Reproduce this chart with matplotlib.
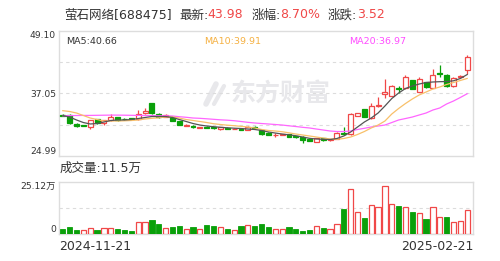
import matplotlib
matplotlib.use("Agg")
import matplotlib.pyplot as plt
import numpy as np

plt.rcParams['font.family'] = ['DejaVu Sans', 'Noto Sans CJK SC']

# daily candles 2024-11-21 .. 2025-02-21
opens = [32.85, 32.88, 31.10, 30.90, 30.63, 32.10, 31.28, 31.92, 32.43, 32.15,
         32.25, 32.11, 33.20, 35.13, 33.07, 32.49, 32.55, 31.73, 30.85, 30.83,
         30.38, 30.60, 30.50, 30.13, 30.35, 30.15, 30.23, 30.00, 30.60, 30.00,
         29.48, 28.95, 29.03, 29.17, 28.80, 28.70, 28.26, 27.74, 28.39, 28.07,
         28.26, 29.51, 29.22, 32.69, 33.94, 32.30, 34.60, 36.86, 36.63, 38.05,
         38.07, 39.55, 37.36, 39.17, 38.10, 40.90, 40.64, 38.40, 40.25, 41.54]
highs = [33.00, 33.00, 31.30, 31.00, 32.00, 32.20, 32.00, 33.00, 32.50, 32.30,
         32.35, 33.84, 34.17, 35.20, 33.20, 33.00, 32.70, 31.80, 31.20, 31.00,
         30.60, 30.75, 30.60, 30.60, 30.50, 30.35, 30.35, 30.83, 30.70, 30.10,
         29.60, 29.35, 29.30, 29.25, 28.90, 28.80, 28.35, 28.50, 28.45, 28.35,
         29.60, 30.48, 33.30, 33.30, 34.00, 35.13, 36.34, 39.75, 38.60, 38.46,
         40.58, 39.70, 40.13, 39.30, 41.77, 42.57, 40.80, 40.10, 40.60, 44.50]
lows = [32.60, 31.20, 30.60, 30.70, 30.13, 31.20, 30.96, 31.80, 31.80, 31.90,
        32.00, 32.00, 33.10, 33.10, 32.30, 32.40, 31.70, 30.90, 30.70, 30.40,
        30.30, 30.30, 30.20, 30.05, 30.10, 30.10, 29.95, 29.95, 30.20, 29.10,
        28.95, 28.70, 28.95, 28.60, 28.50, 27.43, 27.85, 27.65, 27.90, 27.95,
        28.20, 29.10, 29.10, 32.60, 32.40, 32.20, 34.40, 36.10, 36.50, 37.10,
        37.95, 37.80, 37.30, 38.10, 38.00, 40.20, 38.30, 38.30, 40.10, 40.80]
closes = [32.75, 31.28, 30.80, 30.80, 31.92, 31.28, 31.92, 32.55, 31.92, 32.05,
          32.15, 33.01, 33.65, 33.20, 32.43, 32.88, 31.78, 30.96, 31.00, 30.60,
          30.50, 30.40, 30.35, 30.50, 30.20, 30.25, 30.03, 30.51, 30.35, 29.17,
          29.03, 29.05, 29.22, 28.70, 28.60, 28.07, 27.94, 28.39, 28.00, 28.26,
          29.48, 29.18, 33.01, 33.20, 32.55, 34.57, 34.80, 37.36, 38.46, 37.95,
          40.13, 37.88, 39.84, 38.20, 40.64, 40.85, 38.46, 39.94, 40.46, 43.98]

# volume in 万
vols = [2.4, 3.4, 2.1, 1.8, 3.0, 2.1, 3.0, 2.8, 2.4, 2.1,
        1.4, 5.8, 5.8, 6.8, 4.7, 3.0, 3.4, 3.7, 2.6, 3.4,
        2.3, 4.5, 3.7, 3.2, 2.6, 1.9, 4.0, 4.5, 4.0, 4.8,
        3.4, 2.6, 2.3, 3.4, 2.4, 1.4, 2.1, 3.7, 3.0, 2.6,
        4.7, 12.2, 21.9, 10.6, 7.7, 13.9, 13.2, 23.3, 14.6, 13.5,
        12.9, 10.5, 10.0, 7.2, 13.2, 8.2, 8.4, 5.7, 6.1, 11.5]
vol_up = [0, 0, 0, 1, 1, 0, 1, 1, 0, 0,
          0, 1, 1, 0, 0, 1, 0, 0, 1, 0,
          1, 0, 0, 1, 0, 1, 0, 1, 0, 0,
          0, 1, 1, 0, 0, 0, 0, 1, 0, 1,
          1, 0, 1, 1, 0, 1, 1, 1, 1, 0,
          1, 0, 1, 0, 1, 1, 0, 1, 1, 1]

ma5 = [32.78, 32.49, 31.92, 31.43, 31.15, 31.24, 31.53, 31.82, 31.92, 31.92,
       32.01, 32.20, 32.40, 32.59, 32.59, 32.59, 32.40, 32.01, 31.63, 31.24,
       30.95, 30.76, 30.63, 30.51, 30.42, 30.34, 30.28, 30.18, 30.09, 29.90,
       29.61, 29.41, 29.22, 29.07, 28.89, 28.64, 28.39, 28.26, 28.20, 28.16,
       28.36, 28.84, 29.61, 30.57, 31.53, 32.30, 33.26, 34.61, 36.05, 37.11,
       37.98, 38.46, 38.84, 39.13, 39.23, 39.29, 39.32, 39.46, 39.90, 40.66]
ma10 = [33.71, 33.55, 33.26, 32.78, 32.30, 32.01, 31.72, 31.72, 31.72, 31.76,
        31.82, 31.92, 32.11, 32.24, 32.34, 32.49, 32.49, 32.30, 32.01, 31.82,
        31.63, 31.43, 31.20, 31.05, 30.92, 30.82, 30.70, 30.57, 30.38, 30.09,
        29.90, 29.80, 29.66, 29.45, 29.22, 29.03, 28.84, 28.64, 28.45, 28.26,
        28.20, 28.36, 28.64, 29.13, 29.70, 30.38, 30.95, 31.72, 33.07, 34.13,
        35.09, 35.96, 36.73, 37.30, 37.88, 38.27, 38.75, 39.13, 39.52, 39.91]
ma20 = [32.74, 32.76, 32.78, 32.80, 32.80, 32.82, 32.84, 32.86, 32.86, 32.84,
        32.82, 32.80, 32.78, 32.76, 32.74, 32.72, 32.69, 32.55, 32.44, 32.30,
        32.24, 32.15, 32.05, 31.95, 31.88, 31.78, 31.63, 31.47, 31.34, 31.24,
        31.15, 31.05, 30.95, 30.80, 30.66, 30.51, 30.38, 30.18, 29.99, 29.80,
        29.70, 29.70, 29.80, 30.09, 30.32, 30.57, 30.76, 30.95, 31.43, 31.92,
        32.20, 32.49, 32.88, 33.26, 33.84, 34.23, 35.00, 35.57, 36.25, 36.97]

date_labels = ['2024-11-21', '2025-02-21']
price_ticks = [24.99, 37.05, 49.10]
vol_max = 25.12

RED = '#f04848'
GREEN = '#0aa00a'
GRID = '#dcdcdc'
W, H = 500, 261


def fx(x):
    return x / W


def fy(y):
    return 1 - y / H


fig = plt.figure(figsize=(5, 2.61), dpi=100)
ax = fig.add_axes([fx(58.7), fy(156), (473 - 58.7) / W, (156 - 30.7) / H])
axv = fig.add_axes([fx(58.7), fy(234), (473 - 58.7) / W, (234 - 182) / H])

n = len(closes)
x = np.arange(n)
o = np.array(opens)
c = np.array(closes)
up = c >= o

for a in (ax, axv):
    a.set_xlim(-0.6, n - 0.15)
    for s in a.spines.values():
        s.set_color('#dddddd')
        s.set_linewidth(1)
    a.tick_params(length=0, labelsize=6.6, colors='#333333', pad=2)
    a.set_xticks([])

# watermark (logo strokes + name)
wm = '#e8e8eb'
fig.add_artist(plt.Line2D([fx(206), fx(216)], [fy(104), fy(84)], color=wm, lw=4,
                          solid_capstyle='round', zorder=0))
fig.add_artist(plt.Line2D([fx(214), fx(224)], [fy(104), fy(86)], color=wm, lw=3,
                          solid_capstyle='round', zorder=0))
fig.text(fx(281), fy(93.5), '东方财富', fontsize=18, fontweight='bold',
         color=wm, ha='center', va='center', zorder=0)

ax.set_ylim(price_ticks[0], price_ticks[-1])
ax.set_yticks(price_ticks)
ax.set_yticklabels(['%.2f' % v for v in price_ticks])
labs = ax.get_yticklabels()
labs[0].set_verticalalignment('bottom')
labs[-1].set_verticalalignment('top')
for q in (0.25, 0.5, 0.75):
    v = price_ticks[0] + q * (price_ticks[-1] - price_ticks[0])
    ax.axhline(v, color=GRID, lw=0.8, ls=(0, (3, 3)), zorder=0)
ax.patch.set_alpha(0)

# candles
cols = np.where(up, RED, GREEN)
ax.vlines(x, lows, highs, colors=cols, lw=0.9, zorder=2)
body_lo = np.minimum(o, c)
body_h = np.maximum(np.abs(c - o), 0.04)
ax.bar(x[up], body_h[up], bottom=body_lo[up], width=0.72,
       facecolor='white', edgecolor=RED, linewidth=0.9, zorder=3)
ax.bar(x[~up], body_h[~up], bottom=body_lo[~up], width=0.72,
       facecolor=GREEN, edgecolor=GREEN, linewidth=0.9, zorder=3)

ax.plot(x, ma20, color='#ff66ff', lw=0.9, zorder=4)
ax.plot(x, ma10, color='#f8c06a', lw=0.9, zorder=4)
ax.plot(x, ma5, color='#555555', lw=0.9, zorder=4)

# volume
vu = np.array(vol_up) == 1
vv = np.array(vols)
axv.set_ylim(0, vol_max)
axv.set_yticks([0, vol_max])
axv.set_yticklabels(['0', '%.2f万' % vol_max])
vl = axv.get_yticklabels()
vl[0].set_verticalalignment('bottom')
vl[1].set_verticalalignment('top')
axv.axhline(vol_max / 2, color=GRID, lw=0.8, ls=(0, (3, 3)), zorder=0)
axv.bar(x[vu], vv[vu], width=0.76, facecolor='white', edgecolor=RED,
        linewidth=0.9, zorder=3)
axv.bar(x[~vu], vv[~vu], width=0.76, facecolor=GREEN, edgecolor=GREEN,
        linewidth=0.6, zorder=3)

# header
dark = '#333333'
hdr = [(64, '萤石网络[688475]', dark), (179, '最新:', dark), (207, '43.98', RED),
       (252, '涨幅:', dark), (280, '8.70%', RED), (328, '涨跌:', dark),
       (357, '3.52', RED)]
for px_, t, col in hdr:
    fig.text(fx(px_), fy(15), t, fontsize=9, color=col, va='center')

fig.text(fx(66), fy(42), 'MA5:%.2f' % ma5[-1], fontsize=6.8, color=dark, va='center')
fig.text(fx(204), fy(42), 'MA10:%.2f' % ma10[-1], fontsize=6.8, color='#f5b041', va='center')
fig.text(fx(349), fy(42), 'MA20:%.2f' % ma20[-1], fontsize=6.8, color='#ff4dff', va='center')

fig.text(fx(60), fy(168), '成交量:%.1f万' % vols[-1], fontsize=9, color=dark, va='center')

fig.text(fx(59), fy(246.5), date_labels[0], fontsize=9, color=dark, va='center', ha='left')
fig.text(fx(473), fy(246.5), date_labels[1], fontsize=9, color=dark, va='center', ha='right')

fig.savefig('out.png', dpi=100)
